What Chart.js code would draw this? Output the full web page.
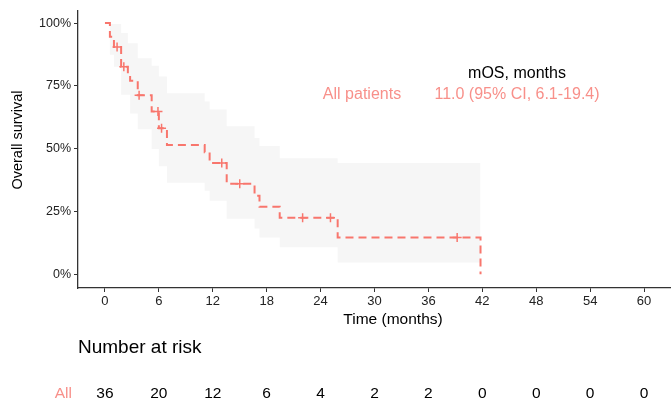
<!DOCTYPE html>
<html>
<head>
<meta charset="utf-8">
<script src="https://cdn.jsdelivr.net/npm/chart.js@4/dist/chart.umd.min.js"></script>
<style>
  body { margin: 0; background: #fff; }
  canvas { display: block; }
</style>
</head>
<body>
<canvas id="kmChart" width="671" height="401"></canvas>
<script>
// KM step points (time in months, survival %)
const stepTimes = [0, 0.55, 1.0, 1.8, 2.55, 2.8, 3.65, 5.2, 6.0, 6.9, 11.1, 11.65, 13.55, 16.65, 17.2, 19.45, 25.9, 41.8];
const survival  = [100, 94.5, 90.5, 82.6, 79.8, 77.0, 71.3, 64.8, 58.1, 51.4, 48.6, 44.3, 36.0, 31.2, 26.9, 22.5, 14.6, 0];

// 95% CI, value from each step time onward
const ciUpper = [100, 99.6, 99.6, 96, 92, 92, 86, 83, 78.7, 72, 68.8, 65.6, 58.9, 54.2, 51, 46.2, 44.3, 44.3];
const ciLower = [100, 87.4, 82.6, 71.5, 71.5, 64, 57.7, 49.8, 43, 36.4, 33.2, 29.2, 22.1, 18.2, 14.6, 10.7, 4.7, 4.7];

// censored observations
const censorTimes = [1.35, 2.1, 3.8, 5.9, 6.3, 13.0, 15.0, 22.0, 25.1, 39.2];
const censorSurv  = [90.5, 82.6, 71.3, 64.8, 58.1, 44.3, 36.0, 22.5, 22.5, 14.6];

const xTicks = [0, 6, 12, 18, 24, 30, 36, 42, 48, 54, 60];
const yTicks = [0, 25, 50, 75, 100];
const atRisk = [36, 20, 12, 6, 4, 2, 2, 0, 0, 0, 0];

const kmColor = '#F8766D';
const textColor = '#f8908a';
const fontFam = '"Liberation Sans", Arial, sans-serif';

const toPts = (xs, ys) => xs.map((x, i) => ({ x: x, y: ys[i] }));

const riskTable = {
    id: 'riskTable',
    afterDraw(chart) {
        const ctx = chart.ctx;
        const xs = chart.scales.x;
        ctx.save();
        ctx.textBaseline = 'middle';

        // axis titles
        ctx.textAlign = 'center';
        ctx.fillStyle = '#000';
        ctx.font = '15.5px ' + fontFam;
        ctx.fillText('Time (months)', 393, 320);
        ctx.save();
        ctx.translate(18, 140);
        ctx.rotate(-Math.PI / 2);
        ctx.font = '14.5px ' + fontFam;
        ctx.fillText('Overall survival', 0, 0);
        ctx.restore();

        // median OS annotation
        ctx.font = '16px ' + fontFam;
        ctx.fillText('mOS, months', 517, 74);
        ctx.fillStyle = textColor;
        ctx.fillText('All patients', 362, 95);
        ctx.fillText('11.0 (95% CI, 6.1-19.4)', 517, 95);

        // number at risk
        ctx.textAlign = 'left';
        ctx.fillStyle = '#000';
        ctx.font = '19px ' + fontFam;
        ctx.fillText('Number at risk', 78, 348);

        ctx.font = '15.5px ' + fontFam;
        ctx.textAlign = 'right';
        ctx.fillStyle = textColor;
        ctx.fillText('All', 72, 394);
        ctx.textAlign = 'center';
        ctx.fillStyle = '#000';
        xTicks.forEach((t, i) => {
            ctx.fillText(String(atRisk[i]), xs.getPixelForValue(t), 394);
        });
        ctx.restore();
    }
};

new Chart(document.getElementById('kmChart').getContext('2d'), {
    type: 'line',
    data: {
        datasets: [
            {
                label: 'censored',
                type: 'scatter',
                data: toPts(censorTimes, censorSurv),
                pointStyle: 'cross',
                pointRadius: 4.5,
                borderColor: kmColor,
                borderWidth: 1.5,
                order: 0
            },
            {
                label: 'All patients',
                data: toPts(stepTimes, survival),
                stepped: 'before',
                borderColor: kmColor,
                borderWidth: 2,
                borderDash: [8, 5],
                pointRadius: 0,
                fill: false,
                order: 1
            },
            {
                label: 'upper',
                data: toPts(stepTimes, ciUpper),
                stepped: 'before',
                borderWidth: 0,
                borderColor: 'rgba(0,0,0,0)',
                backgroundColor: '#f6f6f6',
                pointRadius: 0,
                fill: '+1',
                order: 3
            },
            {
                label: 'lower',
                data: toPts(stepTimes, ciLower),
                stepped: 'before',
                borderWidth: 0,
                borderColor: 'rgba(0,0,0,0)',
                pointRadius: 0,
                fill: false,
                order: 4
            }
        ]
    },
    options: {
        responsive: false,
        animation: false,
        devicePixelRatio: 1,
        layout: { autoPadding: false, padding: { top: 8, bottom: 68, left: 0, right: -2 } },
        plugins: {
            legend: { display: false },
            tooltip: { enabled: false }
        },
        scales: {
            x: {
                type: 'linear',
                min: -3,
                max: 63,
                afterBuildTicks: s => { s.ticks = xTicks.map(v => ({ value: v })); },
                afterFit: s => { s.height = 45; },
                grid: { display: true, drawOnChartArea: false, drawTicks: true, tickLength: 4, color: '#333' },
                border: { display: true, color: '#333', width: 1.3 },
                ticks: { color: '#222', font: { size: 13, family: fontFam }, padding: 2, maxRotation: 0 },
                title: { display: false }
            },
            y: {
                type: 'linear',
                min: -5.5,
                max: 105,
                afterBuildTicks: s => { s.ticks = yTicks.map(v => ({ value: v })); },
                afterFit: s => { s.width = 78; },
                grid: { display: true, drawOnChartArea: false, drawTicks: true, tickLength: 4, color: '#333' },
                border: { display: true, color: '#333', width: 1.3 },
                ticks: { color: '#222', font: { size: 12.5, family: fontFam }, padding: 3, callback: v => v + '%' },
                title: { display: false }
            }
        }
    },
    plugins: [riskTable]
});
</script>
</body>
</html>
